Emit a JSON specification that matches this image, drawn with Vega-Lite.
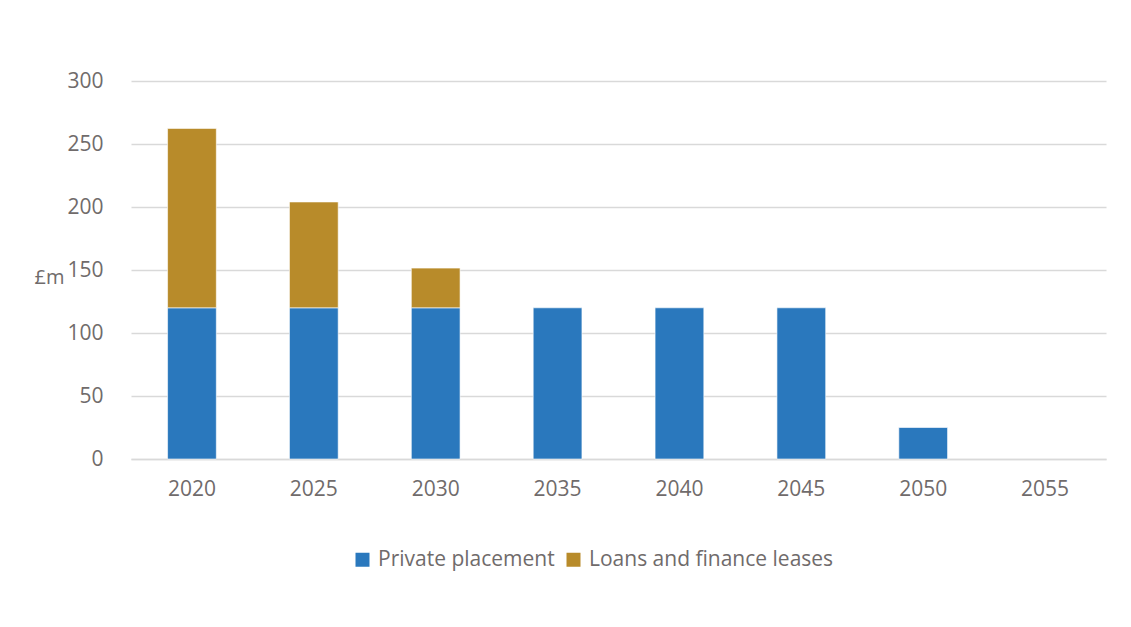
{
  "$schema": "https://vega.github.io/schema/vega-lite/v6.json",
  "width": 975,
  "height": 378,
  "autosize": {"type": "none"},
  "padding": {"left": 131, "top": 81, "right": 25, "bottom": 168},
  "background": "#ffffff",
  "config": {
    "view": {"stroke": null},
    "font": "Open Sans",
    "axis": {"labelFont": "Open Sans", "labelColor": "#706b6b", "labelFontSize": 21, "titleFont": "Open Sans", "titleColor": "#706b6b", "titleFontWeight": "normal", "titleFontSize": 20},
    "legend": {"labelFont": "Open Sans", "labelColor": "#706b6b", "labelFontSize": 21, "labelLimit": 400}
  },
  "data": {
    "values": [
      {"year": "2020", "series": "Private placement", "value": 120},
      {"year": "2020", "series": "Loans and finance leases", "value": 142.4},
      {"year": "2025", "series": "Private placement", "value": 120},
      {"year": "2025", "series": "Loans and finance leases", "value": 84},
      {"year": "2030", "series": "Private placement", "value": 120},
      {"year": "2030", "series": "Loans and finance leases", "value": 31.5},
      {"year": "2035", "series": "Private placement", "value": 120},
      {"year": "2040", "series": "Private placement", "value": 120},
      {"year": "2045", "series": "Private placement", "value": 120},
      {"year": "2050", "series": "Private placement", "value": 25}
    ]
  },
  "mark": {"type": "bar", "stroke": "#ffffff", "strokeWidth": 0.6},
  "encoding": {
    "x": {
      "field": "year",
      "type": "nominal",
      "scale": {"domain": ["2020", "2025", "2030", "2035", "2040", "2045", "2050", "2055"], "paddingInner": 0.6, "paddingOuter": 0.3},
      "axis": {"title": null, "labelAngle": 0, "ticks": false, "domainColor": "#d9d9d9", "domainWidth": 1.5, "labelPadding": 19}
    },
    "y": {
      "field": "value",
      "type": "quantitative",
      "stack": "zero",
      "scale": {"domain": [0, 300], "nice": false},
      "axis": {
        "values": [0, 50, 100, 150, 200, 250, 300],
        "title": "£m",
        "titleAngle": 0,
        "titleAlign": "left",
        "titleBaseline": "middle",
        "titleX": -97,
        "titleY": 196,
        "domain": false,
        "ticks": false,
        "labelPadding": 28,
        "gridColor": "#d9d9d9",
        "gridWidth": 1.3
      }
    },
    "color": {
      "field": "series",
      "type": "nominal",
      "scale": {"domain": ["Private placement", "Loans and finance leases"], "range": ["#2A78BD", "#B88B2A"]},
      "legend": {
        "title": null,
        "orient": "none",
        "direction": "horizontal",
        "legendX": 221,
        "legendY": 468,
        "symbolType": "square",
        "symbolSize": 196,
        "symbolStrokeWidth": 0,
        "labelOffset": 5,
        "columnPadding": 8
      }
    },
    "order": {"field": "series", "sort": "descending"}
  }
}
